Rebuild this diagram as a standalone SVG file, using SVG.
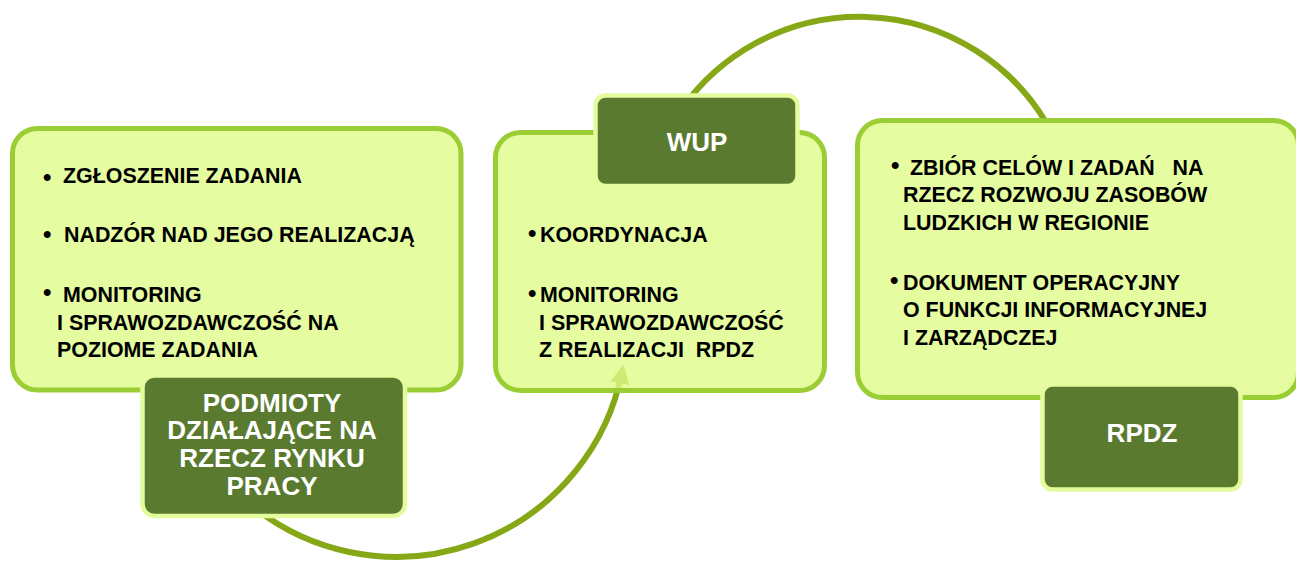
<svg xmlns="http://www.w3.org/2000/svg" width="1296" height="562" viewBox="0 0 1296 562">
<defs>
<style>
.panel{fill:#DEFB8A;fill-opacity:0.8;stroke:#9BCD34;stroke-width:5}
.tag{fill:#5A7A2F;stroke:#E4FC9E;stroke-width:4.5}
.arc{fill:none;stroke:#86A816;stroke-width:6}
.t{font-family:"Liberation Sans",Arial,sans-serif;font-weight:bold;font-size:21.4px;fill:#000;white-space:pre}
.b{font-family:"Liberation Sans",Arial,sans-serif;font-weight:bold;font-size:24px;fill:#000}
.w{font-family:"Liberation Sans",Arial,sans-serif;font-weight:bold;font-size:26px;fill:#fff;text-anchor:middle}
</style>
<marker id="ah" viewBox="0 0 10 10" refX="6" refY="5" markerWidth="3.2" markerHeight="3.2" orient="auto" markerUnits="strokeWidth">
<path d="M0,0 L10,5 L0,10 Z" fill="#86A816"/>
</marker>
</defs>
<g id="connectors">
<path class="arc" d="M681,110 A217.5,217.5 0 0 1 1045.8,122"/>
<path class="arc" marker-end="url(#ah)" d="M251,505 A230,230 0 0 0 622,372"/>
</g>
<g id="node-left">
<rect class="panel" x="12.5" y="128.5" width="448.5" height="261.5" rx="25"/>
<text class="b" x="43" y="185">•</text>
<text class="t" x="63" y="183">ZGŁOSZENIE ZADANIA</text>
<text class="b" x="43" y="242">•</text>
<text class="t" x="64" y="242">NADZÓR NAD JEGO REALIZACJĄ</text>
<text class="b" x="43" y="300">•</text>
<text class="t" x="63" y="302">MONITORING</text>
<text class="t" x="57" y="330">I SPRAWOZDAWCZOŚĆ NA</text>
<text class="t" x="57" y="357">POZIOME ZADANIA</text>
</g>
<g id="node-middle">
<rect class="panel" x="495.5" y="132.5" width="329" height="258" rx="25"/>
<text class="b" x="528" y="241">•</text>
<text class="t" x="540" y="242">KOORDYNACJA</text>
<text class="b" x="528" y="301">•</text>
<text class="t" x="540" y="302">MONITORING</text>
<text class="t" x="539" y="330">I SPRAWOZDAWCZOŚĆ</text>
<text class="t" x="539" y="357">Z REALIZACJI  RPDZ</text>
</g>
<g id="node-right">
<rect class="panel" x="857.5" y="120.5" width="441" height="277" rx="25"/>
<text class="b" x="891" y="173">•</text>
<text class="t" x="910" y="175">ZBIÓR CELÓW I ZADAŃ   NA</text>
<text class="t" x="903" y="202">RZECZ ROZWOJU ZASOBÓW</text>
<text class="t" x="903" y="230">LUDZKICH W REGIONIE</text>
<text class="b" x="890" y="288">•</text>
<text class="t" x="903" y="290">DOKUMENT OPERACYJNY</text>
<text class="t" x="903" y="317">O FUNKCJI INFORMACYJNEJ</text>
<text class="t" x="903" y="345">I ZARZĄDCZEJ</text>
</g>
<g id="node-podmioty">
<rect class="tag" x="142.5" y="375.5" width="262.5" height="140.5" rx="12"/>
<text class="w" x="272" y="411.5">PODMIOTY</text>
<text class="w" x="272" y="439.3">DZIAŁAJĄCE NA</text>
<text class="w" x="272" y="467.1">RZECZ RYNKU</text>
<text class="w" x="272" y="494.9">PRACY</text>
</g>
<g id="node-wup">
<rect class="tag" x="595.5" y="95.5" width="202" height="90.5" rx="10"/>
<text class="w" x="697" y="151">WUP</text>
</g>
<g id="node-rpdz">
<rect class="tag" x="1042.5" y="384.5" width="198" height="105" rx="10"/>
<text class="w" x="1142" y="442">RPDZ</text>
</g>
</svg>
